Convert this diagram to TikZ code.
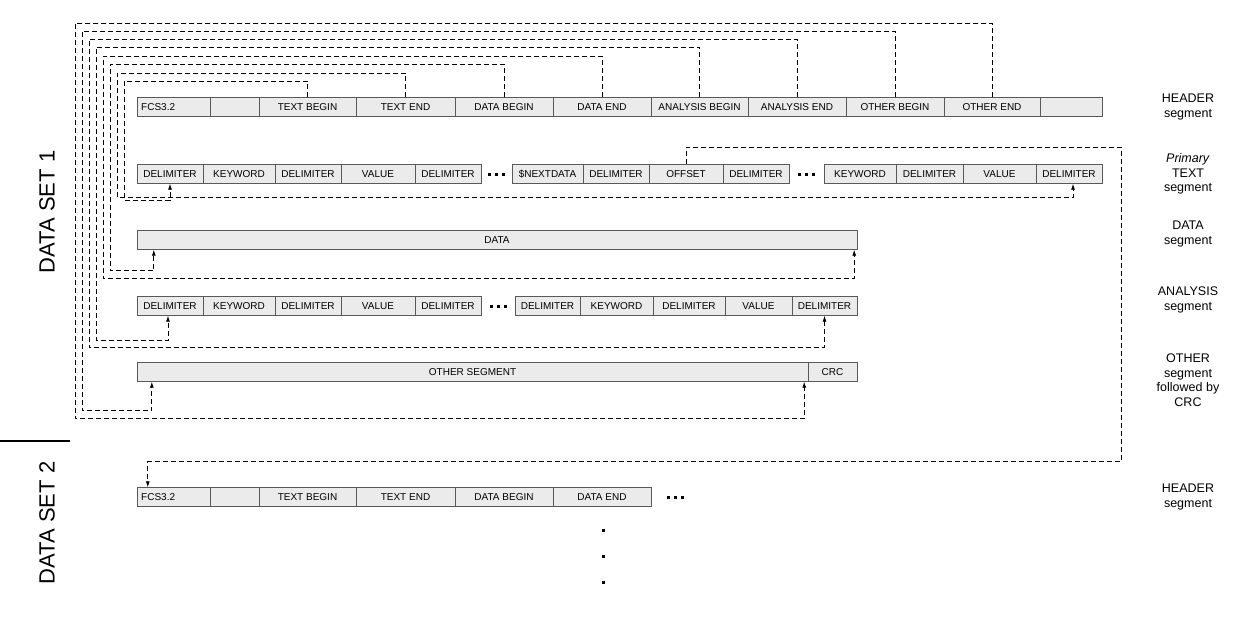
\documentclass[tikz,border=0pt]{standalone}
\usepackage{fontspec}
\setmainfont{Liberation Sans}
\usetikzlibrary{arrows.meta,positioning,calc}
\newcommand{\sqdots}{\rule{3pt}{3pt}\hspace{4pt}\rule{3pt}{3pt}\hspace{4pt}\rule{3pt}{3pt}}

\begin{document}
\begin{tikzpicture}[
  x=1pt, y=-1pt,
  cell/.style={draw=black!65, fill=black!8, inner sep=0pt, minimum height=19pt, font=\fontsize{10}{12}\selectfont},
  link/.style={dash pattern=on 5pt off 3pt, line width=0.8pt, -{Latex[length=6pt,width=4pt]}},
  seg/.style={font=\fontsize{12.5}{14.5}\selectfont, align=center},
  big/.style={font=\fontsize{22}{24}\selectfont, rotate=90}
]
\useasboundingbox (0,0) rectangle (1242,626);

% header segment of data set 1
\foreach \a/\b/\t [count=\i] in {137/210/{},210/259/{},259/356/{TEXT BEGIN},356/455/{TEXT END},455/553/{DATA BEGIN},553/651/{DATA END},651/748/{ANALYSIS BEGIN},748/846/{ANALYSIS END},846/944/{OTHER BEGIN},944/1040/{OTHER END},1040/1102/{}}
  \node[cell, minimum width={(\b-\a)*1pt}] (h\i) at ({(\a+\b)/2},107) {\t};
\node[cell, draw=none, fill=none, anchor=west] (hfcs) at (141,107) {FCS3.2};

% primary text segment
\foreach \a/\b/\t [count=\i] in {137/203/DELIMITER,203/275/KEYWORD,275/341/DELIMITER,341/415/VALUE,415/481/DELIMITER,512/583/{\$NEXTDATA},583/649/DELIMITER,649/723/OFFSET,723/789/DELIMITER,824/896/KEYWORD,896/963/DELIMITER,963/1036/VALUE,1036/1102/DELIMITER}
  \node[cell, minimum width={(\b-\a)*1pt}] (t\i) at ({(\a+\b)/2},174) {\t};
\node (tdots1) at (496,174) {\sqdots};
\node (tdots2) at (806,174) {\sqdots};

% data segment
\node[cell, minimum width=720pt] (d) at (497,240) {DATA};

% analysis segment
\foreach \a/\b/\t [count=\i] in {137/203/DELIMITER,203/275/KEYWORD,275/341/DELIMITER,341/415/VALUE,415/481/DELIMITER,515/580/DELIMITER,580/653/KEYWORD,653/725/DELIMITER,725/792/VALUE,792/857/DELIMITER}
  \node[cell, minimum width={(\b-\a)*1pt}] (a\i) at ({(\a+\b)/2},306) {\t};
\node (adots) at (498,306) {\sqdots};

% other segment and crc
\node[cell, minimum width=671pt] (o) at (472.5,372) {OTHER SEGMENT};
\node[cell, minimum width=49pt] (crc) at (832.5,372) {CRC};

% header segment of data set 2
\foreach \a/\b/\t [count=\i] in {137/210/{},210/259/{},259/356/{TEXT BEGIN},356/455/{TEXT END},455/553/{DATA BEGIN},553/651/{DATA END}}
  \node[cell, minimum width={(\b-\a)*1pt}] (n\i) at ({(\a+\b)/2},497) {\t};
\node[cell, draw=none, fill=none, anchor=west] (nfcs) at (141,497) {FCS3.2};
\node (ndots) at (675,497) {\sqdots};
\node[align=center] (vdots) at (603,556) {\rule{3pt}{3pt}\\[14pt]\rule{3pt}{3pt}\\[14pt]\rule{3pt}{3pt}};

% offsets from the header
\draw[link] (h3.north) |- (124,81) |- (t1.south |- 0,200) -- (t1.south);
\draw[link] (h4.north) |- (117,73) |- ($(t13.south)+(4,14)$) -- ($(t13.south)+(4,0)$);
\draw[link] (h5.north) |- (110,64) |- ($(d.south west)+(17,21)$) -- ($(d.south west)+(17,0)$);
\draw[link] (h6.north) |- (103,56) |- ($(d.south east)+(-3,29)$) -- ($(d.south east)+(-3,0)$);
\draw[link] (h7.north) |- (96,47) |- ($(a1.south)+(-2,25)$) -- ($(a1.south)+(-2,0)$);
\draw[link] (h8.north) |- (89,39) |- ($(a10.south)+(0,32)$) -- (a10.south);
\draw[link] (h9.north) |- (82,31) |- ($(o.south west)+(15,29)$) -- ($(o.south west)+(15,0)$);
\draw[link] (h10.north) |- (75,23) |- ($(o.south east)+(-4,37)$) -- ($(o.south east)+(-4,0)$);
% next data set
\draw[link] (t8.north) |- (1121,147) |- ($(n1.north west)+(11,-26)$) -- ($(n1.north west)+(11,0)$);

% segment labels
\node[seg] (lh1) at (1188,107) {HEADER\\segment};
\node[seg] (lt) at (1188,174) {\textit{Primary}\\TEXT\\segment};
\node[seg] (ld) at (1188,234) {DATA\\segment};
\node[seg] (la) at (1188,300) {ANALYSIS\\segment};
\node[seg] (lo) at (1188,380) {OTHER\\segment\\followed by\\CRC};
\node[seg] (lh2) at (1188,497) {HEADER\\segment};

% data sets
\node[big] (ds1) at (47,212) {DATA SET 1};
\node[big] (ds2) at (47,523) {DATA SET 2};
\draw[line width=1.5pt] (0,441) -- (70,441);
\end{tikzpicture}
\end{document}
